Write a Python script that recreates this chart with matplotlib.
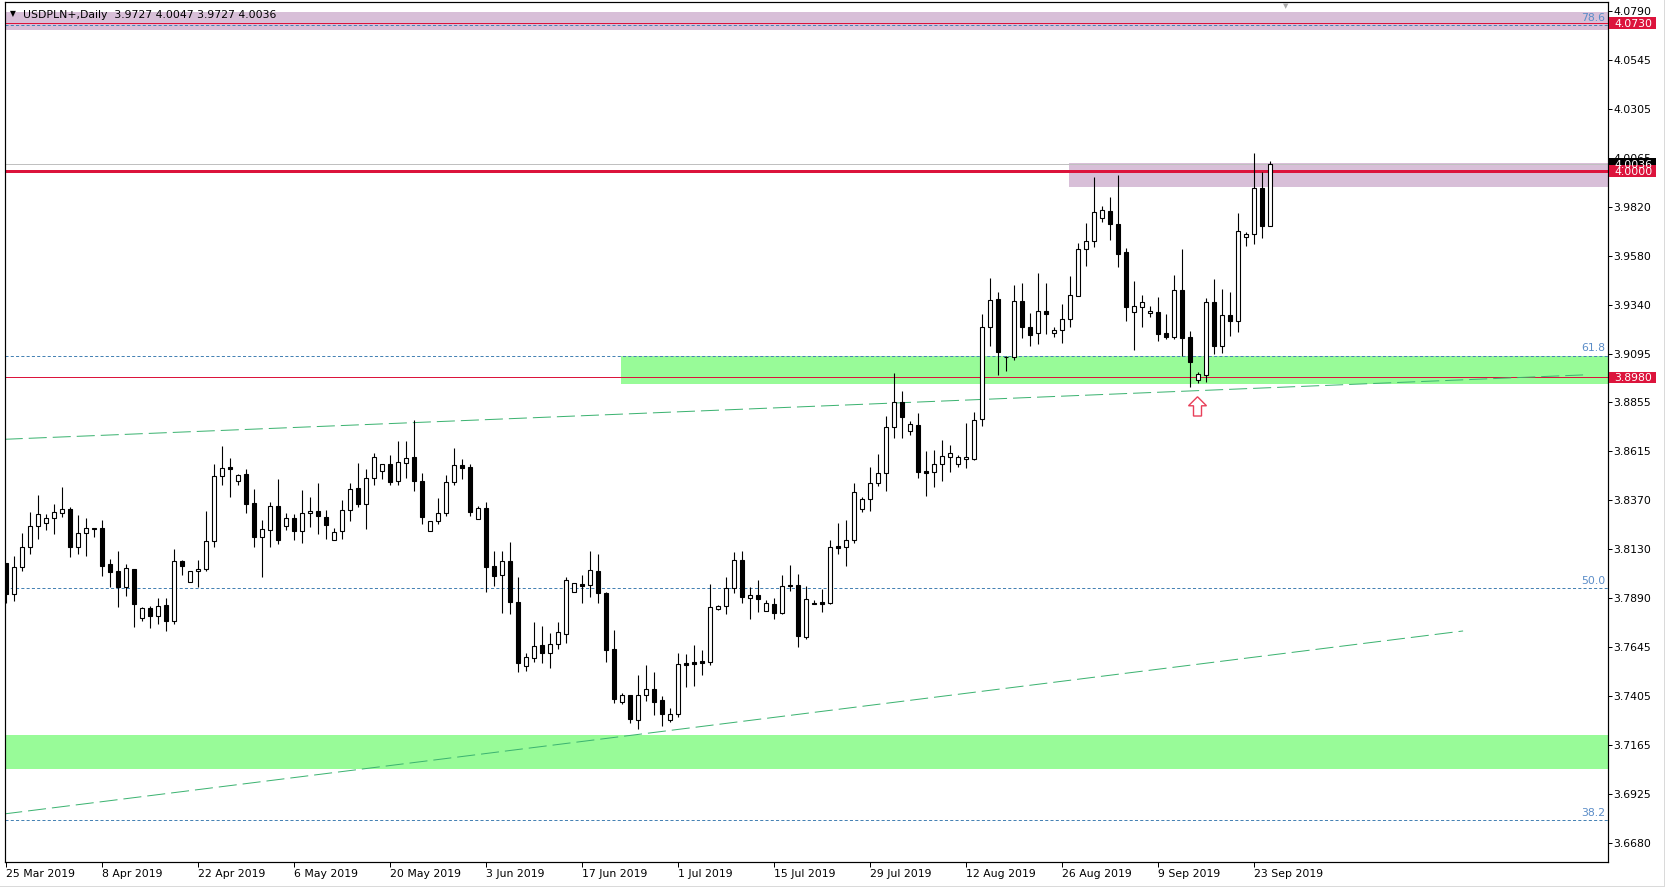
import matplotlib
matplotlib.use('Agg')
import matplotlib.pyplot as plt
from matplotlib.patches import Rectangle, Polygon
from matplotlib.lines import Line2D
from matplotlib.transforms import blended_transform_factory
import numpy as np

plt.rcParams['font.family'] = ['DejaVu Sans']
plt.rcParams['lines.scale_dashes'] = False

# ---------------- data ----------------
opens = [3.8061, 3.7908, 3.8041, 3.8140, 3.8244, 3.8259, 3.8284, 3.8308, 3.8330, 3.8144,
         3.8209, 3.8236, 3.8234, 3.8056, 3.8022, 3.7946, 3.8031, 3.7790, 3.7839, 3.7803,
         3.7855, 3.7778, 3.8073, 3.7967, 3.8022, 3.8031, 3.8170, 3.8491, 3.8536, 3.8466,
         3.8503, 3.8359, 3.8193, 3.8224, 3.8343, 3.8244, 3.8284, 3.8222, 3.8308, 3.8318,
         3.8288, 3.8175, 3.8219, 3.8323, 3.8432, 3.8353, 3.8481, 3.8516, 3.8550, 3.8466,
         3.8555, 3.8585, 3.8466, 3.8219, 3.8268, 3.8308, 3.8461, 3.8545, 3.8535, 3.8278,
         3.8333, 3.8046, 3.8002, 3.8071, 3.7868, 3.7555, 3.7592, 3.7656, 3.7620, 3.7661,
         3.7714, 3.7918, 3.7959, 3.7952, 3.8022, 3.7915, 3.7638, 3.7378, 3.7411, 3.7289,
         3.7412, 3.7439, 3.7384, 3.7289, 3.7315, 3.7567, 3.7572, 3.7577, 3.7572, 3.7837,
         3.7849, 3.7938, 3.8076, 3.7888, 3.7903, 3.7824, 3.7858, 3.7817, 3.7952, 3.7952,
         3.7699, 3.7865, 3.7868, 3.7865, 3.8145, 3.8143, 3.8175, 3.8328, 3.8377, 3.8456,
         3.8506, 3.8733, 3.8857, 3.8713, 3.8743, 3.8516, 3.8511, 3.8550, 3.8588, 3.8550,
         3.8575, 3.8578, 3.8772, 3.9227, 3.9365, 3.9080, 3.9080, 3.9356, 3.9227, 3.9197,
         3.9306, 3.9197, 3.9212, 3.9267, 3.9380, 3.9612, 3.9652, 3.9766, 3.9800, 3.9736,
         3.9598, 3.9304, 3.9326, 3.9296, 3.9301, 3.9197, 3.9181, 3.9410, 3.9178, 3.8965,
         3.8993, 3.9351, 3.9136, 3.9286, 3.9260, 3.9672, 3.9687, 3.9917, 3.9727]
highs = [3.8064, 3.8097, 3.8211, 3.8313, 3.8399, 3.8303, 3.8354, 3.8438, 3.8338, 3.8300,
         3.8285, 3.8236, 3.8275, 3.8083, 3.8122, 3.8056, 3.8031, 3.7845, 3.7850, 3.7892,
         3.7892, 3.8132, 3.8078, 3.8022, 3.8078, 3.8320, 3.8552, 3.8641, 3.8582, 3.8504,
         3.8526, 3.8428, 3.8275, 3.8364, 3.8476, 3.8308, 3.8305, 3.8423, 3.8387, 3.8458,
         3.8323, 3.8234, 3.8374, 3.8456, 3.8555, 3.8525, 3.8605, 3.8550, 3.8596, 3.8665,
         3.8665, 3.8769, 3.8506, 3.8268, 3.8382, 3.8496, 3.8629, 3.8575, 3.8550, 3.8346,
         3.8362, 3.8120, 3.8120, 3.8165, 3.7992, 3.7616, 3.7771, 3.7750, 3.7717, 3.7771,
         3.7994, 3.7962, 3.8003, 3.8122, 3.8107, 3.7920, 3.7732, 3.7420, 3.7411, 3.7509,
         3.7559, 3.7524, 3.7406, 3.7345, 3.7618, 3.7613, 3.7658, 3.7633, 3.7959, 3.7854,
         3.7994, 3.8117, 3.8122, 3.7942, 3.7977, 3.7878, 3.7888, 3.8003, 3.8053, 3.8007,
         3.7947, 3.7880, 3.7936, 3.8175, 3.8260, 3.8275, 3.8458, 3.8390, 3.8537, 3.8601,
         3.8789, 3.9001, 3.8912, 3.8763, 3.8802, 3.8615, 3.8619, 3.8669, 3.8644, 3.8595,
         3.8754, 3.8807, 3.9293, 3.9471, 3.9402, 3.9085, 3.9436, 3.9446, 3.9298, 3.9496,
         3.9446, 3.9229, 3.9342, 3.9481, 3.9644, 3.9743, 3.9970, 3.9827, 3.9871, 3.9980,
         3.9617, 3.9456, 3.9387, 3.9331, 3.9377, 3.9293, 3.9486, 3.9614, 3.9209, 3.9005,
         3.9370, 3.9466, 3.9417, 3.9400, 3.9792, 3.9696, 4.0087, 3.9995, 4.0047]
lows = [3.7864, 3.7877, 3.8025, 3.8109, 3.8183, 3.8228, 3.8208, 3.8292, 3.8094, 3.8107,
        3.8099, 3.8193, 3.8000, 3.7946, 3.7847, 3.7901, 3.7748, 3.7778, 3.7743, 3.7760,
        3.7729, 3.7760, 3.8005, 3.7967, 3.7946, 3.8025, 3.8140, 3.8450, 3.8391, 3.8450,
        3.8308, 3.8140, 3.7995, 3.8144, 3.8158, 3.8228, 3.8178, 3.8163, 3.8242, 3.8208,
        3.8183, 3.8175, 3.8183, 3.8272, 3.8341, 3.8232, 3.8450, 3.8476, 3.8450, 3.8450,
        3.8484, 3.8420, 3.8257, 3.8219, 3.8254, 3.8297, 3.8446, 3.8476, 3.8297, 3.8278,
        3.7921, 3.7951, 3.7817, 3.7809, 3.7526, 3.7531, 3.7575, 3.7570, 3.7546, 3.7636,
        3.7669, 3.7918, 3.7867, 3.7897, 3.7867, 3.7575, 3.7370, 3.7366, 3.7274, 3.7244,
        3.7381, 3.7314, 3.7259, 3.7279, 3.7304, 3.7452, 3.7457, 3.7511, 3.7560, 3.7832,
        3.7812, 3.7913, 3.7867, 3.7788, 3.7822, 3.7824, 3.7785, 3.7812, 3.7926, 3.7646,
        3.7689, 3.7862, 3.7822, 3.7862, 3.8109, 3.8050, 3.8163, 3.8313, 3.8321, 3.8445,
        3.8420, 3.8682, 3.8682, 3.8693, 3.8484, 3.8395, 3.8437, 3.8470, 3.8514, 3.8539,
        3.8531, 3.8573, 3.8741, 3.9137, 3.8993, 3.9013, 3.9067, 3.9176, 3.9137, 3.9146,
        3.9196, 3.9181, 3.9151, 3.9230, 3.9380, 3.9532, 3.9626, 3.9749, 3.9660, 3.9527,
        3.9260, 3.9117, 3.9230, 3.9280, 3.9161, 3.9169, 3.9169, 3.9085, 3.8934, 3.8954,
        3.8959, 3.9095, 3.9100, 3.9186, 3.9206, 3.9630, 3.9637, 3.9670, 3.9727]
closes = [3.7908, 3.8043, 3.8140, 3.8244, 3.8303, 3.8284, 3.8313, 3.8328, 3.8144, 3.8209,
          3.8234, 3.8233, 3.8050, 3.8020, 3.7946, 3.8036, 3.7862, 3.7839, 3.7803, 3.7850,
          3.7778, 3.8071, 3.8050, 3.8022, 3.8033, 3.8170, 3.8491, 3.8531, 3.8529, 3.8496,
          3.8356, 3.8193, 3.8229, 3.8343, 3.8175, 3.8284, 3.8223, 3.8308, 3.8318, 3.8297,
          3.8252, 3.8218, 3.8323, 3.8427, 3.8356, 3.8481, 3.8585, 3.8550, 3.8465, 3.8560,
          3.8580, 3.8466, 3.8288, 3.8268, 3.8308, 3.8461, 3.8545, 3.8534, 3.8316, 3.8333,
          3.8045, 3.8000, 3.8071, 3.7868, 3.7570, 3.7597, 3.7651, 3.7620, 3.7661, 3.7720,
          3.7977, 3.7962, 3.7951, 3.8027, 3.7916, 3.7635, 3.7393, 3.7411, 3.7294, 3.7411,
          3.7439, 3.7378, 3.7318, 3.7315, 3.7562, 3.7560, 3.7565, 3.7570, 3.7844, 3.7849,
          3.7938, 3.8076, 3.7893, 3.7903, 3.7887, 3.7863, 3.7817, 3.7951, 3.7947, 3.7704,
          3.7883, 3.7862, 3.7862, 3.8140, 3.8139, 3.8175, 3.8412, 3.8377, 3.8456, 3.8506,
          3.8733, 3.8857, 3.8782, 3.8748, 3.8514, 3.8509, 3.8550, 3.8590, 3.8605, 3.8585,
          3.8585, 3.8768, 3.9227, 3.9361, 3.9104, 3.9079, 3.9356, 3.9227, 3.9191, 3.9306,
          3.9295, 3.9212, 3.9267, 3.9385, 3.9612, 3.9652, 3.9795, 3.9805, 3.9736, 3.9591,
          3.9329, 3.9331, 3.9351, 3.9306, 3.9196, 3.9181, 3.9410, 3.9176, 3.9057, 3.8995,
          3.9351, 3.9136, 3.9286, 3.9260, 3.9701, 3.9690, 3.9917, 3.9727, 4.0036]

xtick_bars = [0, 12, 24, 36, 48, 60, 72, 84, 96, 108, 120, 132, 144, 156]
xtick_labels = ['25 Mar 2019', '8 Apr 2019', '22 Apr 2019', '6 May 2019', '20 May 2019',
                '3 Jun 2019', '17 Jun 2019', '1 Jul 2019', '15 Jul 2019', '29 Jul 2019',
                '12 Aug 2019', '26 Aug 2019', '9 Sep 2019', '23 Sep 2019']
ytick_labels = ['4.0790', '4.0545', '4.0305', '4.0065', '3.9820', '3.9580', '3.9340',
                '3.9095', '3.8855', '3.8615', '3.8370', '3.8130', '3.7890', '3.7645',
                '3.7405', '3.7165', '3.6925', '3.6680']
ytick_top, ytick_bottom = 4.0790, 3.6680

fib_names = ['78.6', '61.8', '50.0', '38.2']
fib_prices = [4.0721, 3.9087, 3.7938, 3.6793]

red_levels = [4.0730, 4.0000, 3.8980]
red_widths = [1.0, 3.0, 1.0]
bid_price = 4.0036
title = 'USDPLN+,Daily  3.9727 4.0047 3.9727 4.0036'

# zones: (low, high, first bar or None = whole chart, colour)
zone_lows = [4.0698, 3.9922, 3.8946, 3.7043]
zone_highs = [4.0784, 4.0037, 3.9087, 3.7213]
zone_starts = [None, 132.9, 76.9, None]
zone_colors = ['#D8BFD8', '#D8BFD8', '#98FB98', '#98FB98']

trend_up_x = [-0.1, 197.2]
trend_up_y = [3.8674, 3.8992]
trend_low_x = [-0.16, 182.2]
trend_low_y = [3.6823, 3.7727]

arrow_bar = 149
arrow_tip = 3.8884
arrow_base = 3.8789

# ---------------- layout ----------------
W, H = 1666, 888
fig = plt.figure(figsize=(W / 100, H / 100), dpi=100)
ax_left, ax_right, ax_top, ax_bot = 4.5, 1607.5, 2.0, 862.3
ax = fig.add_axes([ax_left / W, 1 - ax_bot / H, (ax_right - ax_left) / W, (ax_bot - ax_top) / H])
axw_px = ax_right - ax_left

XMIN, XMAX = -0.125, 200.25
YMIN, YMAX = 3.6584, 4.08345
ax.set_xlim(XMIN, XMAX)
ax.set_ylim(YMIN, YMAX)
px_per_price = (ax_bot - ax_top) / (YMAX - YMIN)

PX = 0.72  # one pixel in points
FS = 7.8

# zones
for lo, hi, st, col in zip(zone_lows, zone_highs, zone_starts, zone_colors):
    x0 = XMIN if st is None else st
    ax.add_patch(Rectangle((x0, lo), XMAX - x0, hi - lo, facecolor=col, edgecolor='none', zorder=0.5))

# fib lines
for name, p in zip(fib_names, fib_prices):
    ax.axhline(p, color='#4682B4', lw=PX, linestyle=(0, (2.2, 1.6)), zorder=1)
trans_b = blended_transform_factory(ax.transAxes, ax.transData)
for name, p in zip(fib_names, fib_prices):
    ax.text(1 - 2.0 / axw_px, p + 2.4 / px_per_price, name, transform=trans_b, ha='right',
            va='bottom', color='#5B8DC8', fontsize=FS, zorder=6)

# bid line
ax.axhline(bid_price, color='#C0C0C0', lw=PX, zorder=1.2)
# red levels
for p, w in zip(red_levels, red_widths):
    ax.axhline(p, color='#DC143C', lw=w * PX, zorder=1.5)

# trend lines
ax.plot(trend_up_x, trend_up_y, color='#3CB371', lw=PX, linestyle=(0, (13, 4.3)), zorder=2)
ax.plot(trend_low_x, trend_low_y, color='#3CB371', lw=PX, linestyle=(0, (13, 4.3)), zorder=2)

# candles
x = np.arange(len(opens))
o = np.array(opens); c = np.array(closes); hgh = np.array(highs); low = np.array(lows)
ax.vlines(x, low, hgh, color='black', lw=PX * 1.1, zorder=3)
up = c >= o
body_lo = np.minimum(o, c)
body_h = np.maximum(np.abs(c - o), 0.00005)
ax.bar(x[up], body_h[up], bottom=body_lo[up], width=0.5, color='white', edgecolor='black',
       linewidth=PX * 1.1, zorder=4)
ax.bar(x[~up], body_h[~up], bottom=body_lo[~up], width=0.5, color='black', edgecolor='black',
       linewidth=PX * 1.1, zorder=4)

# arrow
hw, sw = 1.125, 0.5
head_h = 9.0 / px_per_price
neck = arrow_tip - head_h
arrow_pts = [(arrow_bar, arrow_tip), (arrow_bar + hw, neck), (arrow_bar + sw, neck),
             (arrow_bar + sw, arrow_base), (arrow_bar - sw, arrow_base), (arrow_bar - sw, neck),
             (arrow_bar - hw, neck)]
ax.add_patch(Polygon(arrow_pts, closed=True, facecolor='white', edgecolor='#E8405A',
                     lw=1.4 * PX, zorder=5))

# axes styling
for s in ax.spines.values():
    s.set_color('black')
    s.set_linewidth(PX * 1.2)
ax.yaxis.tick_right()
ax.set_yticks(np.linspace(ytick_top, ytick_bottom, len(ytick_labels)))
ax.set_yticklabels(ytick_labels)
ax.tick_params(axis='y', direction='out', length=4 * PX, width=PX, pad=2.2 * PX,
               labelsize=FS, colors='black')
ax.set_xticks(xtick_bars)
ax.set_xticklabels(xtick_labels)
ax.tick_params(axis='x', direction='out', length=5 * PX, width=PX, pad=1.2,
               labelsize=FS, colors='black')
for lbl in ax.get_xticklabels():
    lbl.set_horizontalalignment('left')

# price boxes on right axis
def price_box(price, text, fc):
    h = 11.6 / px_per_price
    ax.add_patch(Rectangle((1 + 1.5 / axw_px, price - h / 2), 47 / axw_px, h,
                           transform=trans_b, facecolor=fc, edgecolor='none',
                           clip_on=False, zorder=10))
    ax.text(1 + 6.5 / axw_px, price, text, transform=trans_b, color='white', ha='left',
            va='center_baseline', fontsize=FS, clip_on=False, zorder=11)

price_box(bid_price, '4.0036', 'black')
price_box(red_levels[0], '4.0730', '#DC143C')
price_box(red_levels[1], '4.0000', '#DC143C')
price_box(red_levels[2], '3.8980', '#DC143C')

# title
fig.text(23.3 / W, 1 - 15 / H, title, fontsize=FS, ha='left', va='center', color='black')
fig.text(12.5 / W, 1 - 13.5 / H, '\u25BC', fontsize=5.5, ha='center', va='center', color='black')
fig.text(1286 / W, 1 - 6 / H, '\u25BC', fontsize=5, ha='center', va='center', color='#A8A8A8')

# outer frame
fig.add_artist(Line2D([1663.5 / W, 1663.5 / W], [1 - 885.5 / H, 1], color='#DADADA', lw=PX,
                      transform=fig.transFigure))
fig.add_artist(Line2D([0, 1663.5 / W], [1 - 885.5 / H, 1 - 885.5 / H], color='#DADADA', lw=PX,
                      transform=fig.transFigure))

fig.savefig('out.png', dpi=100, facecolor='white')
